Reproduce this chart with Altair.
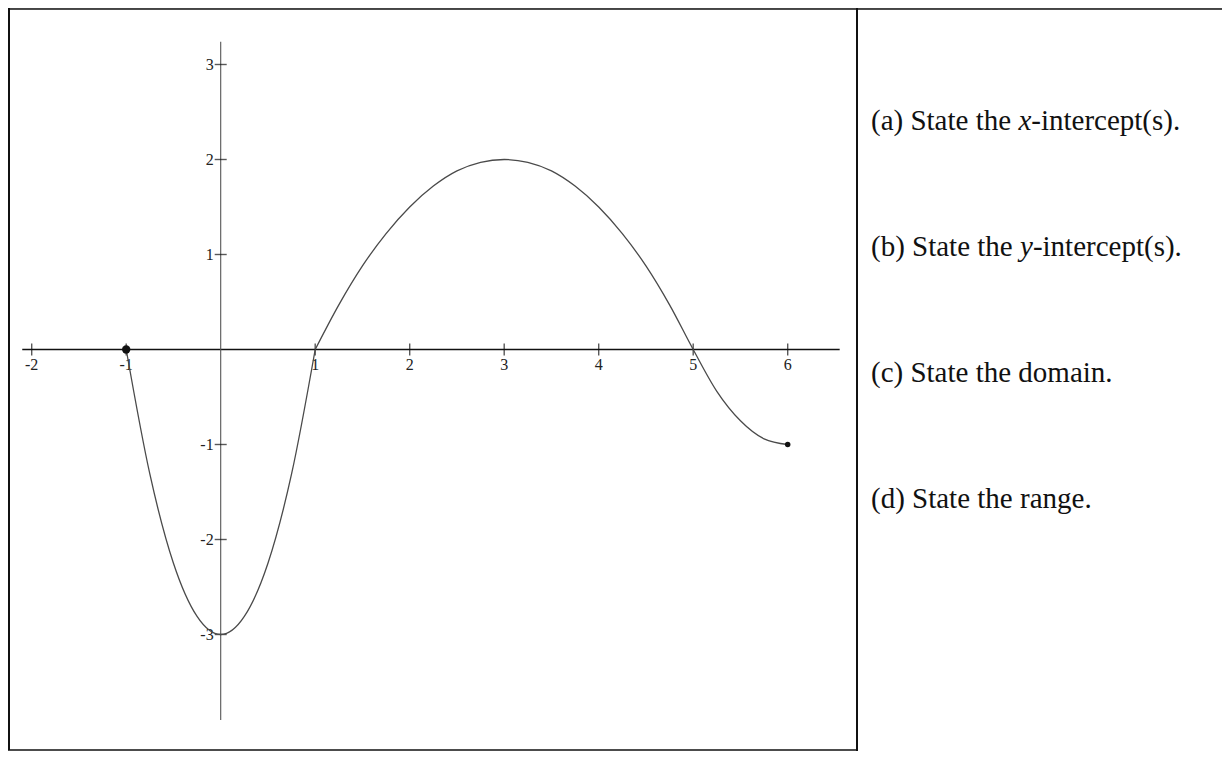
import altair as alt
import pandas as pd

# ---- data ----
# two pieces: the left dip, and the hump plus the tail (kink at x = 1)
curve_piece = ["left"] * 9 + ["right"] * 21
curve_x = [-1.0, -0.75, -0.5, -0.25, 0.0, 0.25, 0.5, 0.75, 1.0,
           1.0, 1.25, 1.5, 1.75, 2.0, 2.25, 2.5, 2.75, 3.0, 3.25, 3.5, 3.75,
           4.0, 4.25, 4.5, 4.75, 5.0, 5.25, 5.5, 5.75, 6.0]
curve_y = [0.0, -1.31, -2.25, -2.81, -3.0, -2.81, -2.25, -1.31, 0.0,
           0.0, 0.47, 0.88, 1.22, 1.5, 1.72, 1.88, 1.97, 2.0, 1.97, 1.88, 1.72,
           1.5, 1.22, 0.88, 0.47, 0.0, -0.44, -0.75, -0.94, -1.0]

endpoint_x = [-1, 6]
endpoint_y = [0, -1]
endpoint_kind = ["big", "small"]

x_ticks = [-2, -1, 1, 2, 3, 4, 5, 6]
y_ticks = [-3, -2, -1, 1, 2, 3]
x_axis_from, x_axis_to = -2.10, 6.55
y_axis_from, y_axis_to = -3.90, 3.24

q_prefix = ["(a) State the ", "(b) State the ", "(c) State the domain.", "(d) State the range."]
q_var = ["x", "y", "", ""]
q_suffix = ["-intercept(s).", "-intercept(s).", "", ""]

# ---- layout ----
W, H = 1214, 743
UX, UY = 94.5, 95.0          # px per unit
X0, Y0 = 212.7, 341.5        # origin inside the svg
x_scale = alt.Scale(domain=[-X0 / UX, (W - X0) / UX], nice=False, zero=False)
y_scale = alt.Scale(domain=[(Y0 - H) / UY, Y0 / UY], nice=False, zero=False)

FS = 29
SERIF = "Liberation Serif"


def X(f):
    return alt.X(f, type="quantitative", scale=x_scale, axis=None)


def Y(f):
    return alt.Y(f, type="quantitative", scale=y_scale, axis=None)


curve_df = pd.DataFrame({"x": curve_x, "y": curve_y, "piece": curve_piece})
curve = alt.Chart(curve_df).mark_line(
    color="#4a4a4a", strokeWidth=1.3, interpolate="monotone", clip=False
).encode(x=X("x"), y=Y("y"), detail="piece:N")

ends = alt.Chart(pd.DataFrame({"x": endpoint_x, "y": endpoint_y, "s": endpoint_kind})).mark_circle(
    color="#111", opacity=1
).encode(x=X("x"), y=Y("y"),
         size=alt.Size("s:N", scale=alt.Scale(domain=["big", "small"], range=[70, 30]),
                       legend=None))

xaxis = alt.Chart(pd.DataFrame({"a": [x_axis_from], "b": [x_axis_to], "y": [0]})).mark_rule(
    color="#111", strokeWidth=1.5
).encode(x=X("a"), x2="b", y=Y("y"))

yaxis = alt.Chart(pd.DataFrame({"a": [y_axis_from], "b": [y_axis_to], "x": [0]})).mark_rule(
    color="#555", strokeWidth=1.1
).encode(y=Y("a"), y2="b", x=X("x"))

xt_df = pd.DataFrame({"x": x_ticks, "y": [0] * len(x_ticks), "lab": [str(v) for v in x_ticks]})
yt_df = pd.DataFrame({"y": y_ticks, "x": [0] * len(y_ticks), "lab": [str(v) for v in y_ticks]})

xtick_marks = alt.Chart(xt_df).mark_tick(
    orient="vertical", size=12, thickness=1.4, color="#111"
).encode(x=X("x"), y=Y("y"))
ytick_marks = alt.Chart(yt_df).mark_tick(
    orient="horizontal", size=12, thickness=1.4, color="#111"
).encode(x=X("x"), y=Y("y"))

xlabels = alt.Chart(xt_df).mark_text(
    dy=15, align="center", baseline="middle", font=SERIF, fontSize=16, color="#222"
).encode(x=X("x"), y=Y("y"), text="lab:N")
ylabels = alt.Chart(yt_df).mark_text(
    dx=-7, align="right", baseline="middle", font=SERIF, fontSize=16, color="#222"
).encode(x=X("x"), y=Y("y"), text="lab:N")

# ---- frame of the worksheet box ----
DIV = 849
frame = [
    alt.Chart(pd.DataFrame({"k": [0]})).mark_rule(color="#111", strokeWidth=2).encode(
        x=alt.value(1), y=alt.value(0), y2=alt.value(H - 1)),
    alt.Chart(pd.DataFrame({"k": [0]})).mark_rule(color="#111", strokeWidth=1.5).encode(
        x=alt.value(0), x2=alt.value(W), y=alt.value(1)),
    alt.Chart(pd.DataFrame({"k": [0]})).mark_rule(color="#111", strokeWidth=1.5).encode(
        x=alt.value(0), x2=alt.value(DIV), y=alt.value(H - 1)),
    alt.Chart(pd.DataFrame({"k": [0]})).mark_rule(color="#111", strokeWidth=2).encode(
        x=alt.value(DIV), y=alt.value(0), y2=alt.value(H)),
]

# ---- question texts (right panel) ----
Q_X = 863
Q_Y = [113, 239, 365, 491]
TIMES = {"(": 333, ")": 333, " ": 250, "S": 556, "t": 278, "a": 444, "e": 444,
         "h": 500, "b": 500, "x": 444, "y": 444}


def width(s):
    return sum(TIMES.get(c, 500) for c in s) * FS / 1000.0


texts = []
for i in range(4):
    pieces = [(q_prefix[i], "normal", 0.0)]
    if q_var[i]:
        w1 = width(q_prefix[i])
        pieces.append((q_var[i], "italic", w1))
        pieces.append((q_suffix[i], "normal", w1 + 444 * FS / 1000.0))
    for txt, style, off in pieces:
        texts.append(
            alt.Chart(pd.DataFrame({"t": [txt]})).mark_text(
                align="left", baseline="middle", font=SERIF, fontSize=FS,
                fontStyle=style, color="#111"
            ).encode(x=alt.value(Q_X + off), y=alt.value(Q_Y[i]), text="t:N")
        )

chart = alt.layer(
    *frame, xaxis, yaxis, xtick_marks, ytick_marks, xlabels, ylabels, curve, ends, *texts
).properties(
    width=W, height=H, padding=0, autosize=alt.AutoSizeParams(type="none")
).configure_view(stroke=None).configure(background="white")

chart.save("out.html", embed_options={"renderer": "svg", "actions": False})
